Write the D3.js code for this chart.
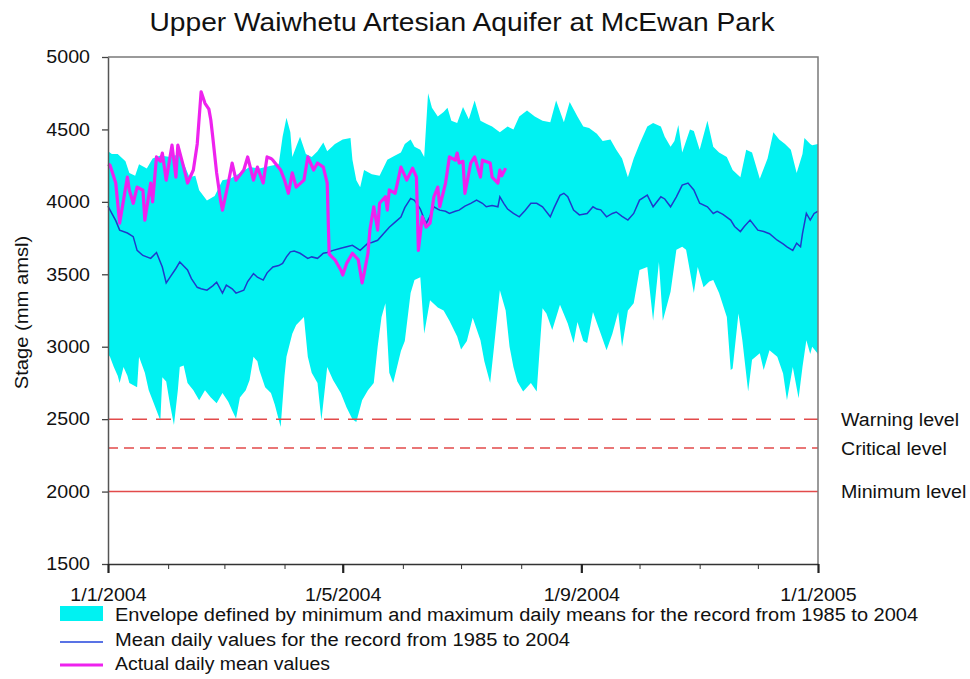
<!DOCTYPE html>
<html>
<head>
<meta charset="utf-8">
<script src="https://cdn.jsdelivr.net/npm/d3@7"></script>
<style>
  body { margin: 0; background: #fff; }
  text { font-family: Arial, "Liberation Sans", sans-serif; fill: #111; }
</style>
</head>
<body>
<svg id="chart" width="970" height="679"></svg>
<script>
// days after 1/1/2004 and stage (mm amsl)
const maxDays = [0,2,5,9,11,14,16,20,23,27,32,37,42,45,47,51,55,59,63,68,73,78,84,88,90,92,94,95,97,99,102,105,108,111,113,117,121,125,126,128,130,132,136,140,144,148,151,153,156,158,161,163,165,167,170,173,175,177,180,183,186,189,192,195,198,202,206,209,212,216,220,224,228,231,235,238,242,245,248,252,255,259,262,265,268,271,274,278,281,285,287,290,292,294,296,300,302,305,309,312,315,319,322,326,329,332,336,340,343,346,349,352,355,358,359,362,363,366];
const maxVals = [4350,4330,4330,4280,4200,4180,4260,4230,4300,4320,4310,4330,4170,4180,4080,4010,4040,4150,4160,4200,4240,4230,4250,4260,4450,4580,4480,4310,4380,4450,4330,4310,4350,4410,4350,4400,4430,4440,4290,4150,4100,4220,4190,4180,4290,4320,4340,4400,4430,4380,4360,4310,4750,4650,4590,4620,4650,4560,4545,4655,4570,4700,4560,4540,4520,4480,4520,4500,4590,4630,4590,4560,4550,4700,4550,4690,4590,4520,4510,4470,4420,4430,4360,4300,4170,4300,4400,4520,4545,4520,4450,4380,4420,4530,4340,4500,4490,4360,4560,4380,4340,4310,4220,4170,4360,4340,4160,4300,4480,4430,4400,4360,4200,4330,4440,4400,4390,4400];

const minDays = [0,1,3,5,6,8,10,11,15,16,19,21,23,27,28,30,32,34,36,37,39,41,44,47,50,53,56,59,62,64,66,68,71,73,75,77,78,81,84,86,89,91,92,95,97,101,103,105,108,110,113,116,120,123,126,128,131,134,137,139,141,143,145,147,151,153,156,158,161,163,166,170,173,176,180,182,185,188,192,194,197,199,202,205,207,209,211,214,218,221,224,226,229,233,237,240,242,245,247,250,254,257,260,263,265,268,271,274,278,281,284,286,290,293,296,298,302,304,307,310,312,315,319,321,322,325,327,330,332,336,338,341,345,348,350,353,356,358,360,362,363,366];
const minVals = [2950,2930,2860,2800,2750,2860,2800,2750,2720,2930,2820,2700,2630,2490,2790,2760,2600,2460,2700,2860,2870,2750,2700,2630,2700,2650,2610,2680,2620,2560,2505,2650,2700,2770,2930,2900,2840,2720,2680,2600,2445,2800,2930,3090,3150,3205,2930,2820,2750,2490,2860,2770,2680,2580,2500,2480,2630,2700,2750,3000,3205,3300,2820,2750,2970,3040,3370,3460,3480,3090,3320,3270,3250,3180,3070,2980,3040,3200,3045,2900,2750,3000,3390,3250,3000,2860,2760,2690,2750,2690,3265,3230,3115,3290,3160,3025,3170,3040,3025,3240,3090,2975,3090,3240,3000,3250,3300,3530,3550,3180,3585,3180,3380,3670,3690,3670,3370,3550,3410,3450,3460,3370,3205,2840,2850,3230,3045,2690,2910,2955,2840,2975,2930,2815,2630,2860,2645,2860,3045,2950,3000,2950];

const meanDays = [0,1,4,6,10,13,15,18,22,25,28,30,32,35,37,41,43,46,48,51,54,56,59,61,64,66,70,72,75,77,80,82,85,88,90,92,94,96,99,103,105,108,111,113,116,120,123,126,130,134,136,139,142,145,148,151,153,156,158,161,163,164,166,168,170,171,174,176,179,181,184,187,190,193,195,198,201,202,204,206,209,212,215,218,221,224,228,230,233,235,237,240,243,247,250,252,254,257,260,262,265,268,271,274,278,281,285,287,290,293,296,299,302,305,309,312,314,317,321,323,326,328,331,335,338,341,345,348,350,353,355,357,358,360,362,364,366];
const meanVals = [3970,3945,3870,3805,3785,3760,3665,3630,3610,3650,3550,3440,3480,3540,3585,3530,3470,3410,3400,3390,3420,3445,3370,3425,3400,3370,3390,3450,3505,3480,3460,3510,3550,3560,3575,3620,3655,3660,3645,3610,3620,3610,3645,3650,3665,3680,3690,3700,3665,3715,3720,3735,3780,3825,3860,3895,3960,4024,4010,3950,3880,3851,3900,3966,3950,3943,3935,3920,3935,3943,3970,3990,4012,3990,3966,3975,3966,4035,3990,3950,3920,3897,3940,3990,3990,3966,3897,3960,4045,4059,4035,3943,3910,3920,3966,3950,3945,3897,3920,3930,3900,3874,3920,4012,4047,3966,4035,4020,3966,4035,4116,4130,4082,3990,3966,3920,3935,3913,3874,3830,3795,3830,3874,3805,3795,3780,3735,3710,3690,3665,3715,3690,3780,3920,3874,3920,3935];

const actualDays = [0,1,4,6,8,10,11,13,15,18,19,22,23,25,27,28,30,33,35,36,39,41,44,46,48,50,52,53,54,56,58,59,62,64,66,70,72,75,77,80,82,84,85,89,91,93,95,97,101,103,106,108,111,113,114,117,120,121,123,126,129,131,132,134,135,137,139,140,143,144,145,148,151,154,157,159,160,162,164,166,168,170,171,174,176,179,180,181,183,184,187,189,192,193,197,198,201,202,203,205];
const actualVals = [4260,4254,4130,3853,4012,4171,4080,3990,4102,4080,3874,4130,4000,4310,4280,4337,4150,4392,4171,4392,4240,4130,4220,4400,4760,4680,4640,4565,4448,4200,4012,3943,4130,4268,4150,4220,4310,4150,4240,4130,4310,4300,4288,4220,4150,4059,4200,4102,4150,4310,4220,4268,4240,4130,3640,3600,3530,3495,3575,3645,3600,3440,3505,3645,3805,3966,3805,3990,4035,3943,4082,4059,4240,4150,4233,4171,3665,3897,3826,3853,4035,4102,3966,4130,4310,4288,4337,4268,4280,4059,4268,4310,4171,4288,4268,4171,4130,4220,4180,4233];

const yTicks = [1500, 2000, 2500, 3000, 3500, 4000, 4500, 5000];
const levelNames = ["Warning level", "Critical level", "Minimum level"];
const levelVals = [2500, 2300, 2000];
const legendLabels = [
  "Envelope defined by minimum and maximum daily means for the record from 1985 to 2004",
  "Mean daily values for the record from 1985 to 2004",
  "Actual daily mean values"
];

const width = 970, height = 679;
const margin = { top: 57, right: 152, bottom: 115, left: 108 };
const svg = d3.select("#chart");

const start = new Date(2004, 0, 1);
const end = new Date(2005, 0, 1);

const x = d3.scaleTime().domain([start, end]).range([margin.left, width - margin.right]);
const y = d3.scaleLinear().domain([1500, 5000]).range([height - margin.bottom, margin.top]);

const pts = (days, vals) => days.map((d, i) => ({ date: d3.timeDay.offset(start, d), value: vals[i] }));
const line = d3.line().x(d => x(d.date)).y(d => y(d.value));

// envelope: max forward, min backward
const upper = pts(maxDays, maxVals);
const lower = pts(minDays, minVals).reverse();
svg.append("path")
  .attr("d", line(upper.concat(lower)) + "Z")
  .attr("fill", "#00f2f2");

// warning / critical / minimum levels
const dashes = ["15,9", "10,6", null];
levelVals.forEach((v, i) => {
  svg.append("line")
    .attr("x1", x(start)).attr("x2", x(end))
    .attr("y1", y(v)).attr("y2", y(v))
    .attr("stroke", "#e24a4a")
    .attr("stroke-width", 1.5)
    .attr("stroke-dasharray", dashes[i]);
  svg.append("text")
    .attr("x", 841)
    .attr("y", y(v))
    .attr("dy", "0.36em")
    .attr("font-size", 18)
    .text(levelNames[i]);
});

// mean line
svg.append("path")
  .attr("d", line(pts(meanDays, meanVals)))
  .attr("fill", "none")
  .attr("stroke", "#1f3acb")
  .attr("stroke-width", 1.5);

// actual values
svg.append("path")
  .attr("d", line(pts(actualDays, actualVals)))
  .attr("fill", "none")
  .attr("stroke", "#ee22ee")
  .attr("stroke-width", 3.2)
  .attr("stroke-linejoin", "round");

// frame top and right
svg.append("path")
  .attr("d", `M${x(start)},${y(5000)}H${x(end)}V${y(1500)}`)
  .attr("fill", "none")
  .attr("stroke", "#7a7a7a")
  .attr("stroke-width", 1.5);

// y axis
const yAxis = svg.append("g")
  .attr("transform", `translate(${x(start)},0)`)
  .call(d3.axisLeft(y).tickValues(yTicks).tickSize(6).tickSizeOuter(0).tickPadding(12).tickFormat(d3.format("d")));
yAxis.select(".domain").attr("stroke", "#555").attr("stroke-width", 1.5);
yAxis.selectAll(".tick line").attr("stroke", "#444").attr("stroke-width", 1.3);
yAxis.selectAll("text").attr("font-size", 18).attr("font-family", null).attr("fill", "#111");

// x axis: minor monthly ticks, major every 4 months
const xBase = y(1500);
const minor = svg.append("g")
  .attr("transform", `translate(0,${xBase})`)
  .call(d3.axisBottom(x).tickValues(d3.timeMonth.range(start, end)).tickSize(5).tickSizeOuter(0).tickFormat(""));
minor.select(".domain").attr("stroke", "#333").attr("stroke-width", 1.5);
minor.selectAll(".tick line").attr("stroke", "#333");

const majorTicks = d3.timeMonth.every(4).range(start, d3.timeDay.offset(end, 1));
const major = svg.append("g")
  .attr("transform", `translate(0,${xBase})`)
  .call(d3.axisBottom(x).tickValues(majorTicks).tickSize(9).tickPadding(15).tickFormat(d3.timeFormat("%-d/%-m/%Y")));
major.select(".domain").remove();
major.selectAll(".tick line").attr("stroke", "#222").attr("stroke-width", 2.2);
major.selectAll("text").attr("font-size", 18).attr("font-family", null).attr("fill", "#111");

// y axis title
svg.append("text")
  .attr("transform", `translate(28,${(y(1500) + y(5000)) / 2 + 2}) rotate(-90)`)
  .attr("text-anchor", "middle")
  .attr("font-size", 18.5)
  .text("Stage (mm amsl)");

// chart title
svg.append("text")
  .attr("x", 462)
  .attr("y", 31)
  .attr("text-anchor", "middle")
  .attr("font-size", 25)
  .attr("data-w", 625)
  .text("Upper Waiwhetu Artesian Aquifer at McEwan Park");

// legend
const legendY = [621, 646, 670];
const legendW = [803, 455, 215];
svg.append("rect")
  .attr("x", 60).attr("y", 606)
  .attr("width", 43).attr("height", 15)
  .attr("fill", "#00f2f2");
svg.append("line")
  .attr("x1", 60).attr("x2", 103)
  .attr("y1", 642).attr("y2", 642)
  .attr("stroke", "#2244dd").attr("stroke-width", 1.6);
svg.append("line")
  .attr("x1", 60).attr("x2", 103)
  .attr("y1", 665).attr("y2", 665)
  .attr("stroke", "#ee22ee").attr("stroke-width", 3);
legendLabels.forEach((t, i) => {
  svg.append("text")
    .attr("x", 115)
    .attr("y", legendY[i])
    .attr("font-size", 18)
    .attr("data-w", legendW[i])
    .text(t);
});

// the source picture is slightly wider than normal Arial
svg.selectAll("text").each(function () {
  const fixed = this.getAttribute("data-w");
  const w = fixed ? +fixed : this.getComputedTextLength() * 1.09;
  if (w > 0) {
    d3.select(this).attr("textLength", w).attr("lengthAdjust", "spacingAndGlyphs");
  }
});
</script>
</body>
</html>
